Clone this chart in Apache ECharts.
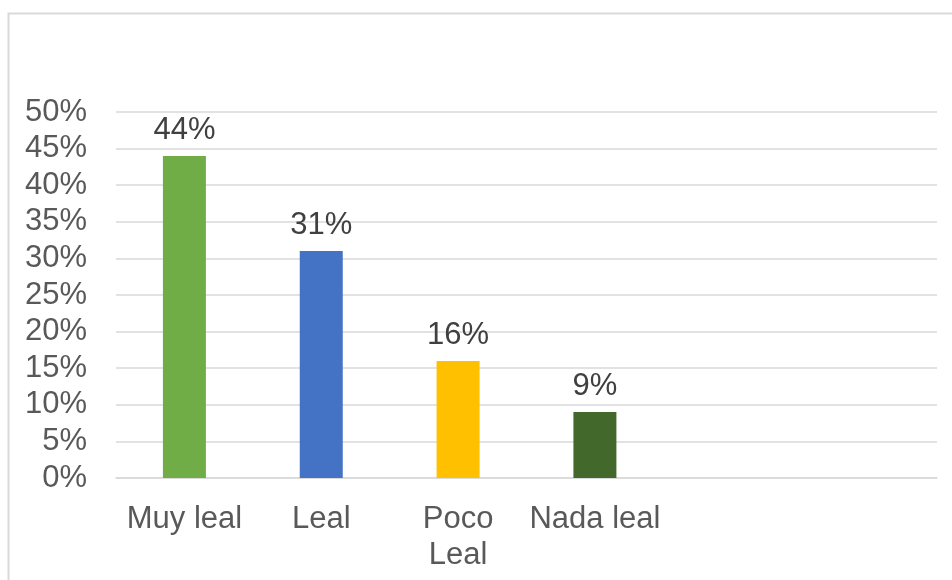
<!DOCTYPE html>
<html>
<head>
<meta charset="utf-8">
<script src="https://cdn.jsdelivr.net/npm/echarts@6/dist/echarts.min.js"></script>
<style>
html,body{margin:0;padding:0;background:#fff;}
#chart{width:952px;height:580px;}
</style>
</head>
<body>
<div id="chart"></div>
<script>
var categories = ['Muy leal', 'Leal', 'Poco\nLeal', 'Nada leal', '', ''];
var values = [44, 31, 16, 9];
var barColors = ['#70AD47', '#4472C4', '#FFC000', '#43682B'];
var yTicks = { min: 0, max: 50, interval: 5 };

var chart = echarts.init(document.getElementById('chart'));
var font = 'Liberation Sans, Arial, sans-serif';
chart.setOption({
  animation: false,
  graphic: [{
    type: 'rect',
    left: 6, top: 11,
    shape: { width: 960, height: 600 },
    style: { fill: 'none', stroke: '#D9D9D9', lineWidth: 2 },
    silent: true
  }],
  grid: { left: 116, right: 15, top: 112, bottom: 102, containLabel: false },
  xAxis: {
    type: 'category',
    data: categories,
    axisLine: { show: true, lineStyle: { color: '#D9D9D9', width: 1.5 } },
    axisTick: { show: false },
    axisLabel: {
      interval: 0, color: '#595959', fontSize: 31, fontFamily: font,
      margin: 23, lineHeight: 36
    }
  },
  yAxis: {
    type: 'value',
    min: yTicks.min, max: yTicks.max, interval: yTicks.interval,
    axisLine: { show: false },
    axisTick: { show: false },
    splitLine: { lineStyle: { color: '#D9D9D9', width: 1.5 } },
    axisLabel: {
      color: '#595959', fontSize: 31, fontFamily: font, margin: 29,
      padding: [4, 0, 0, 0],
      formatter: function (v) { return v + '%'; }
    }
  },
  series: [{
    type: 'bar',
    barWidth: 43,
    data: values.map(function (v, i) {
      return { value: v, itemStyle: { color: barColors[i] } };
    }),
    label: {
      show: true, position: 'top', distance: 10,
      color: '#404040', fontSize: 31, fontFamily: font,
      formatter: function (p) { return p.value + '%'; }
    }
  }]
});
</script>
</body>
</html>
